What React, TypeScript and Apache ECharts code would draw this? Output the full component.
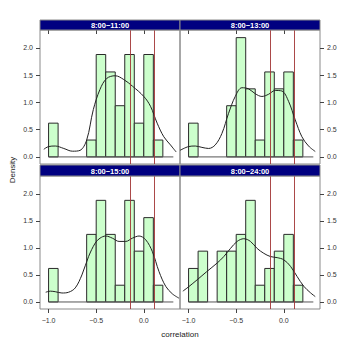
import React, { useEffect, useRef } from "react";
import * as echarts from "echarts";

// ---------- data ----------
const panelTitles = ["8:00−11:00", "8:00−13:00", "8:00−15:00", "8:00−24:00"];
const binStarts = [-1.0, -0.9, -0.8, -0.7, -0.6, -0.5, -0.4, -0.3, -0.2, -0.1, 0.0, 0.1];
const binWidth = 0.1;

const hist11 = [0.62, 0, 0, 0, 0.31, 1.88, 1.56, 0.94, 1.88, 0.62, 1.88, 0.31];
const hist13 = [0.62, 0, 0, 0, 0.94, 2.19, 1.25, 0.31, 1.56, 1.25, 1.56, 0.31];
const hist15 = [0.62, 0, 0, 0, 1.25, 1.88, 1.25, 0.31, 1.88, 0.94, 1.56, 0.31];
const hist24 = [0.62, 0.94, 0, 0.94, 0.94, 1.25, 1.88, 0.31, 0.62, 0.94, 1.25, 0.31];

const dens11 = [
  [-1.05, 0.14], [-1.0, 0.19], [-0.93, 0.2], [-0.84, 0.155], [-0.75, 0.105], [-0.67, 0.12],
  [-0.6, 0.31], [-0.53, 0.87], [-0.46, 1.24], [-0.39, 1.44], [-0.3, 1.49], [-0.21, 1.42],
  [-0.12, 1.3], [0.0, 1.11], [0.07, 0.93], [0.14, 0.62], [0.21, 0.37], [0.28, 0.22], [0.34, 0.09],
];
const dens13 = [
  [-1.09, 0.12], [-1.0, 0.19], [-0.93, 0.2], [-0.86, 0.175], [-0.79, 0.155], [-0.72, 0.22],
  [-0.65, 0.43], [-0.58, 0.8], [-0.51, 1.11], [-0.44, 1.27], [-0.37, 1.25], [-0.3, 1.16],
  [-0.23, 1.11], [-0.16, 1.15], [-0.09, 1.22], [-0.02, 1.21], [0.05, 1.02], [0.12, 0.68],
  [0.19, 0.37], [0.26, 0.2], [0.33, 0.1],
];
const dens15 = [
  [-1.03, 0.18], [-0.98, 0.2], [-0.93, 0.19], [-0.86, 0.166], [-0.79, 0.18], [-0.72, 0.26],
  [-0.65, 0.5], [-0.58, 0.84], [-0.51, 1.09], [-0.46, 1.18], [-0.4, 1.22], [-0.33, 1.18],
  [-0.26, 1.12], [-0.19, 1.12], [-0.12, 1.18], [-0.05, 1.22], [0.02, 1.15], [0.09, 0.93],
  [0.16, 0.56], [0.23, 0.29], [0.3, 0.15], [0.37, 0.07],
];
const dens24 = [
  [-1.06, 0.2], [-1.0, 0.28], [-0.91, 0.41], [-0.81, 0.56], [-0.7, 0.72], [-0.63, 0.84],
  [-0.56, 0.99], [-0.49, 1.12], [-0.42, 1.17], [-0.35, 1.12], [-0.28, 0.99], [-0.21, 0.9],
  [-0.14, 0.84], [-0.07, 0.82], [0.0, 0.78], [0.07, 0.66], [0.14, 0.47], [0.21, 0.29],
  [0.28, 0.17], [0.33, 0.1],
];

const baselineRange = [-1.0, 0.31];
const criticalValues = [-0.14, 0.11];
const xTicks = [-1.0, -0.5, 0.0];
const yTicks = [0.0, 0.5, 1.0, 1.5, 2.0];
const xLabel = "correlation";
const yLabel = "Density";

const hists = [hist11, hist13, hist15, hist24];
const dens = [dens11, dens13, dens15, dens24];

// ---------- layout ----------
const X_MIN = -1.09, X_MAX = 0.38, Y_MIN = -0.13, Y_MAX = 2.33;
const panels = [
  { left: 40, top: 30, width: 140, height: 134, row: 0, col: 0 },
  { left: 180, top: 30, width: 140, height: 134, row: 0, col: 1 },
  { left: 40, top: 176, width: 140, height: 133, row: 1, col: 0 },
  { left: 180, top: 176, width: 140, height: 133, row: 1, col: 1 },
];
const FONT = '"Liberation Sans", Arial, Helvetica, sans-serif';
const fmtMinus = (v: number) => {
  const s = Math.abs(v).toFixed(1);
  return v < -1e-9 ? "−" + s : s;
};

export default function App() {
  const ref = useRef<HTMLDivElement>(null);
  useEffect(() => {
    if (!ref.current) return;
    const chart = echarts.init(ref.current, null, { renderer: "svg" });

    const grid: any[] = [];
    const xAxis: any[] = [];
    const yAxis: any[] = [];
    const series: any[] = [];
    const graphic: any[] = [];

    panels.forEach((p, i) => {
      const top = p.row === 0;
      grid.push({
        left: p.left, top: p.top, width: p.width, height: p.height,
        show: true, borderColor: "#8a8a8a", borderWidth: 1, backgroundColor: "transparent",
      });
      xAxis.push({
        gridIndex: i, type: "value", min: X_MIN, max: X_MAX,
        position: top ? "top" : "bottom",
        axisLine: { show: false, onZero: false },
        splitLine: { show: false },
        axisTick: { show: true, inside: top, length: 4, customValues: xTicks, lineStyle: { color: "#444" } },
        axisLabel: {
          show: !top, customValues: xTicks, formatter: fmtMinus, fontSize: 7, color: "#333",
          fontFamily: FONT, margin: 8,
        },
      });
      yAxis.push({
        gridIndex: i, type: "value", min: Y_MIN, max: Y_MAX,
        position: p.col === 0 ? "left" : "right",
        axisLine: { show: false, onZero: false },
        splitLine: { show: false },
        axisTick: { show: true, inside: false, length: 4, customValues: yTicks, lineStyle: { color: "#444" } },
        axisLabel: {
          show: true, customValues: yTicks, formatter: (v: number) => v.toFixed(1), fontSize: 7,
          color: "#333", fontFamily: FONT, margin: 7,
        },
      });

      const histData = binStarts
        .map((b, k) => [b, b + binWidth, hists[i][k]])
        .filter((d) => d[2] > 0);
      series.push({
        type: "custom",
        xAxisIndex: i, yAxisIndex: i,
        data: histData,
        encode: { x: [0, 1], y: 2 },
        renderItem: (params: any, api: any) => {
          const p0 = api.coord([api.value(0), api.value(2)]);
          const p1 = api.coord([api.value(1), 0]);
          return {
            type: "rect",
            shape: { x: p0[0], y: p0[1], width: p1[0] - p0[0], height: p1[1] - p0[1] },
            style: { fill: "#ccffcc", stroke: "#2a2a2a", lineWidth: 1 },
          };
        },
        z: 2,
      });
      series.push({
        type: "line",
        xAxisIndex: i, yAxisIndex: i,
        data: [[baselineRange[0], 0], [baselineRange[1], 0]],
        showSymbol: false, symbol: "none",
        lineStyle: { color: "#555", width: 1 },
        z: 3,
      });
      series.push({
        type: "line",
        xAxisIndex: i, yAxisIndex: i,
        data: dens[i],
        smooth: 0.35,
        showSymbol: false, symbol: "none",
        lineStyle: { color: "#222", width: 1 },
        z: 4,
        markLine: {
          silent: true, symbol: "none", label: { show: false },
          lineStyle: { color: "#a23535", width: 1, type: "solid", opacity: 0.9 },
          data: criticalValues.map((v) => ({ xAxis: v })),
        },
      });

      const sy = top ? 20 : 165;
      const sh = top ? 10 : 11;
      graphic.push({
        type: "rect", z: 10,
        shape: { x: p.left, y: sy, width: p.width, height: sh },
        style: { fill: "#000080", stroke: "#8a8a8a", lineWidth: 1 },
      });
      graphic.push({
        type: "text", z: 11,
        x: p.left + p.width / 2, y: sy + sh / 2 + 0.5,
        style: {
          text: panelTitles[i], fill: "#ffffff", fontSize: 7.5, fontWeight: "bold",
          fontFamily: FONT, align: "center", verticalAlign: "middle",
        },
      });
    });

    graphic.push({
      type: "text", x: 12, y: 170, rotation: Math.PI / 2,
      style: { text: yLabel, fill: "#222", fontSize: 8, fontFamily: FONT, align: "center", verticalAlign: "middle" },
    });
    graphic.push({
      type: "text", x: 180, y: 334,
      style: { text: xLabel, fill: "#222", fontSize: 8, fontFamily: FONT, align: "center", verticalAlign: "middle" },
    });

    chart.setOption({
      animation: false,
      backgroundColor: "#ffffff",
      grid, xAxis, yAxis, series, graphic,
    });
    return () => chart.dispose();
  }, []);
  return (
    <div
      ref={ref}
      style={{ position: "absolute", left: 0, top: 0, width: 350, height: 350 }}
    />
  );
}
